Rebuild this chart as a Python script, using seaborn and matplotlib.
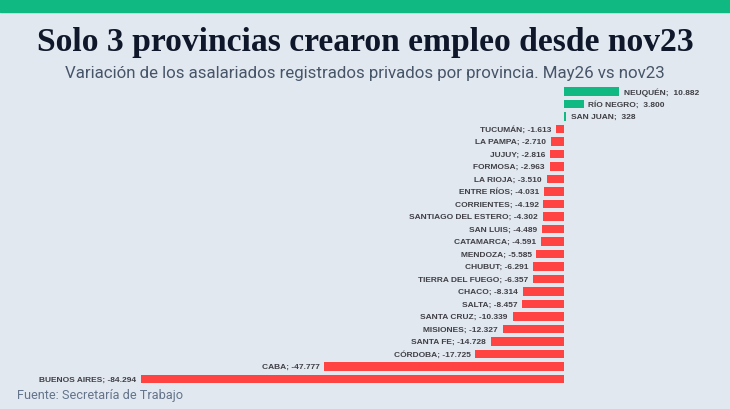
import matplotlib
matplotlib.use('Agg')
import matplotlib.pyplot as plt
import pandas as pd
import seaborn as sns

provincias = ['NEUQUÉN', 'RÍO NEGRO', 'SAN JUAN', 'TUCUMÁN', 'LA PAMPA', 'JUJUY',
              'FORMOSA', 'LA RIOJA', 'ENTRE RÍOS', 'CORRIENTES', 'SANTIAGO DEL ESTERO',
              'SAN LUIS', 'CATAMARCA', 'MENDOZA', 'CHUBUT', 'TIERRA DEL FUEGO', 'CHACO',
              'SALTA', 'SANTA CRUZ', 'MISIONES', 'SANTA FE', 'CÓRDOBA', 'CABA', 'BUENOS AIRES']
variacion = [10882, 3800, 328, -1613, -2710, -2816, -2963, -3510, -4031, -4192, -4302,
             -4489, -4591, -5585, -6291, -6357, -8314, -8457, -10339, -12327, -14728,
             -17725, -47777, -84294]

BG = '#e2e8f0'
VERDE = '#10b981'
ROJO = '#ff4343'

df = pd.DataFrame({'provincia': provincias, 'variacion': variacion})
df['signo'] = ['pos' if v > 0 else 'neg' for v in df['variacion']]

def fmt(v):
    s = f'{abs(v):,}'.replace(',', '.')
    return ('-' + s) if v < 0 else (' ' + s)

fig = plt.figure(figsize=(7.3, 4.1), dpi=100, facecolor=BG)
ax = fig.add_axes([0, 0, 1, 1])
ax.set_facecolor(BG)

sns.barplot(data=df, y='provincia', x='variacion', hue='signo',
            palette={'pos': VERDE, 'neg': ROJO}, dodge=False, width=0.68,
            saturation=1, legend=False, ax=ax, linewidth=0)

# ubicar el cero y las barras donde estan en la imagen
ax.set_xlim(-112361, 32942)
ax.set_ylim(25.396, -7.378)
ax.axis('off')

for i, (p, v) in enumerate(zip(provincias, variacion)):
    ax.annotate(f'{p}; {fmt(v)}', xy=(v, i), xytext=(3.5 if v > 0 else -3.5, 0),
                textcoords='offset points', ha='left' if v > 0 else 'right',
                va='center', fontsize=6.0, fontweight='bold', color='#404046',
                family='Liberation Sans')

# franja verde superior
fig.patches.append(plt.Rectangle((0, 1 - 12.5 / 410), 1, 12.5 / 410,
                                 transform=fig.transFigure, color=VERDE, zorder=0))

fig.text(0.5, 1 - 42 / 410, 'Solo 3 provincias crearon empleo desde nov23',
         ha='center', va='center', fontsize=24.2, fontweight='bold',
         family='Liberation Serif', color='#0f172a')
fig.text(0.5, 1 - 73.5 / 410, 'Variación de los asalariados registrados privados por provincia. May26 vs nov23',
         ha='center', va='center', fontsize=12.2, family='Roboto', color='#475569')
fig.text(17 / 730, 1 - 396 / 410, 'Fuente: Secretaría de Trabajo',
         ha='left', va='center', fontsize=9.2, family='Roboto', color='#64748b')

fig.savefig('out.png', dpi=100, facecolor=BG)
